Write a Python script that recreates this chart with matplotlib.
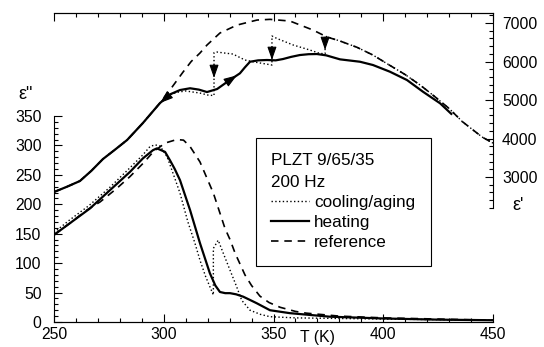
import matplotlib
matplotlib.use('Agg')
import matplotlib.pyplot as plt
import numpy as np
from matplotlib.ticker import FixedLocator
from matplotlib.lines import Line2D

plt.rcParams['font.family'] = ['Liberation Sans', 'DejaVu Sans']

# eps' (right axis) -- heating
t_re_heat = [250, 256, 261.8, 267, 272.3, 278, 283.3, 290.5, 298.3, 303, 307.4, 312, 316, 319.7,
             324.3, 328.8, 331.5, 334.7, 337, 339.3, 343, 347, 351, 354.3, 358, 362, 366,
             369.8, 374, 380.3, 389.4, 395.3, 403, 410.8, 418.1, 425.9, 431]
eps_re_heat = [2610, 2750, 2896, 3160, 3467, 3720, 3961, 4402, 4922, 5150, 5259, 5305, 5270, 5207,
               5285, 5467, 5571, 5693, 5850, 5994, 6030, 6039, 6030, 6064, 6120, 6168, 6190,
               6194, 6160, 6056, 5994, 5909, 5736, 5519, 5215, 4914, 4640]

# eps' -- reference
t_re_ref = [250, 256, 261.8, 267, 272.3, 278, 283.3, 290.5, 298.3, 303.8, 308.8, 312.5, 316.5,
            319.7, 325.6, 333.4, 342.5, 348.4, 357.5, 368, 374.4, 380.3, 388, 395.3, 403,
            410, 417, 423, 430, 436, 445, 450]
eps_re_ref = [2610, 2750, 2896, 3160, 3467, 3720, 3961, 4402, 4922, 5337, 5727, 6000, 6220,
              6428, 6740, 6947, 7077, 7095, 7051, 6817, 6636, 6532, 6370, 6168, 5900,
              5660, 5380, 5110, 4780, 4440, 4040, 3880]

# eps' -- cooling / aging
t_re_cool = [250, 256, 261.8, 267, 272.3, 278, 283.3, 290.5, 298.3, 303, 306, 310, 316.5, 320,
             322.9, 322.9, 324.3, 327, 331.5, 337, 341, 345, 349.3, 349.3, 351.5, 359, 366.6,
             371, 373.5, 373.5, 380.3, 388, 395.3, 403, 410, 417, 423, 430, 436, 445, 450]
eps_re_cool = [2610, 2750, 2896, 3160, 3467, 3720, 3961, 4402, 4922, 5140, 5200, 5235, 5180, 5130,
               5115, 6230, 6246, 6225, 6194, 6039, 5990, 5950, 5909, 6662, 6600, 6428, 6298,
               6212, 6200, 6660, 6532, 6370, 6168, 5900, 5660, 5380, 5110, 4780, 4440, 4040, 3880]

# eps'' (left axis) -- heating
t_im_heat = [250, 257.3, 266.4, 275.5, 284.6, 290.5, 295.1, 296.9, 300.6, 302.8, 305, 307.4,
             312, 316.5, 321, 323.5, 325.6, 328, 330.2, 333, 336.2, 339, 342.3, 348.4, 357.5,
             375.7, 400, 425, 450]
eps_im_heat = [148, 168, 193, 224, 255, 278, 292, 295, 289, 275, 260, 241,
               190, 134, 83, 62, 51, 49, 49, 47, 43, 38, 32, 20, 15,
               9, 6, 4, 3]

# eps'' -- cooling / aging
t_im_cool = [250, 257, 266, 275.5, 284.6, 290.5, 293.7, 296, 298.3, 301.5, 304, 307.4, 311,
             314.2, 316.5, 319, 321, 322.6, 322.6, 324.8, 327.1, 330.2, 333.2, 335.5, 339.3,
             344, 348.4, 360, 400, 450]
eps_im_cool = [152, 173, 198, 229, 262, 284, 298, 301, 299, 281, 255, 219, 170,
               134, 105, 78, 60, 46, 125, 139, 117, 88, 60, 37, 20,
               13, 9, 7, 5, 3]

# eps'' -- reference
t_im_ref = [250, 257.3, 264.9, 271, 278.6, 284.6, 290.7, 295.2, 300.6, 305.9, 309, 312, 316.5,
            322.6, 327.9, 330.2, 332.5, 337, 340, 343.8, 348, 353, 360, 365, 380, 400, 425, 450]
eps_im_ref = [148, 168, 190, 204, 227, 247, 270, 289, 304, 310, 309, 298, 272,
              219, 159, 140, 117, 80, 62, 44, 33, 25, 18, 15, 10, 7, 5, 3]

legend_labels = ['cooling/aging', 'heating', 'reference']
legend_title = 'PLZT 9/65/35\n200 Hz'

fig = plt.figure(figsize=(5.44, 3.47), dpi=100)
ax = fig.add_axes([54 / 544, 25 / 347, 439 / 544, 309 / 347])
ax2 = ax.twinx()

dot_kw = dict(color='k', lw=1.0, linestyle=(0, (1, 1.7)))
sol_kw = dict(color='k', lw=1.6, linestyle='-')
das_kw = dict(color='k', lw=1.2, linestyle=(0, (4.5, 3.5)))

# eps'' curves
ax.plot(t_im_ref, eps_im_ref, **das_kw)
ax.plot(t_im_cool, eps_im_cool, **dot_kw)
ax.plot(t_im_heat, eps_im_heat, **sol_kw)

# eps' curves
ax2.plot(t_re_ref, eps_re_ref, **das_kw)
ax2.plot(t_re_cool, eps_re_cool, **dot_kw)
ax2.plot(t_re_heat, eps_re_heat, **sol_kw)

# arrows (aging steps, heating / cooling direction)
astyle = dict(arrowstyle='-|>,head_length=0.8,head_width=0.28', color='k', lw=0.8,
              shrinkA=0, shrinkB=0)
for t, top, tip in [(322.9, 5909, 5571), (349.3, 6376, 6039), (373.5, 6636, 6298)]:
    ax2.annotate('', xy=(t, tip), xytext=(t, top), arrowprops=astyle)
ax2.annotate('', xy=(333.3, np.interp(333.3, t_re_heat, eps_re_heat)),
             xytext=(329.5, np.interp(329.5, t_re_heat, eps_re_heat)), arrowprops=astyle)
ax2.annotate('', xy=(298.3, np.interp(298.3, t_re_heat, eps_re_heat)),
             xytext=(302, np.interp(302, t_re_heat, eps_re_heat)), arrowprops=astyle)

# axes setup
ax.set_xlim(250, 450)
ax.set_ylim(0, 525)
ax2.set_ylim(-766, 7260)

ax.spines['right'].set_visible(False)
ax2.spines['left'].set_visible(False)
ax.spines['left'].set_bounds(0, 350)
ax2.spines['right'].set_bounds(2200, 7260)
for a in (ax, ax2):
    for s in a.spines.values():
        s.set_linewidth(0.8)

ax.xaxis.set_major_locator(FixedLocator(np.arange(250, 451, 50)))
ax.xaxis.set_minor_locator(FixedLocator(np.arange(250, 451, 10)))
ax.yaxis.set_major_locator(FixedLocator(np.arange(0, 351, 50)))
ax.yaxis.set_minor_locator(FixedLocator(np.arange(0, 351, 10)))
ax2.yaxis.set_major_locator(FixedLocator(np.arange(3000, 7001, 1000)))
ax2.yaxis.set_minor_locator(FixedLocator(np.arange(2200, 7201, 200)))

fs = 11.3
ax.tick_params(axis='x', which='both', direction='in', top=True, width=0.8, labelsize=fs, pad=3.5)
ax.tick_params(axis='x', which='major', length=6)
ax.tick_params(axis='x', which='minor', length=3)
ax.tick_params(axis='y', which='both', direction='in', width=0.8, labelsize=fs, pad=9)
ax.tick_params(axis='y', which='major', length=6)
ax.tick_params(axis='y', which='minor', length=3)
ax2.tick_params(axis='y', which='both', direction='in', width=0.8, labelsize=fs, pad=6.5)
ax2.tick_params(axis='y', which='major', length=6)
ax2.tick_params(axis='y', which='minor', length=3)

ax.set_xlabel('T (K)', fontsize=fs)
ax.xaxis.set_label_coords(0.60, -0.025)

fig.text(26 / 544, 1 - 95 / 347, 'ε"', fontsize=13, ha='center', va='center')
fig.text(518 / 544, 1 - 205 / 347, "ε'", fontsize=13, ha='center', va='center')

handles = [Line2D([], [], **dot_kw), Line2D([], [], **sol_kw), Line2D([], [], **das_kw)]
leg = ax2.legend(handles, legend_labels, title=legend_title, alignment='left',
                 loc='upper left', bbox_to_anchor=(0.46, 0.5955), borderaxespad=0,
                 fancybox=False, edgecolor='k', framealpha=1, fontsize=12.3,
                 title_fontsize=12.3, handlelength=2.2, handletextpad=0.3,
                 labelspacing=0.3, borderpad=0.9)
leg.get_frame().set_linewidth(0.8)
leg.get_title().set_linespacing(1.55)

fig.savefig('out.png', dpi=100)
